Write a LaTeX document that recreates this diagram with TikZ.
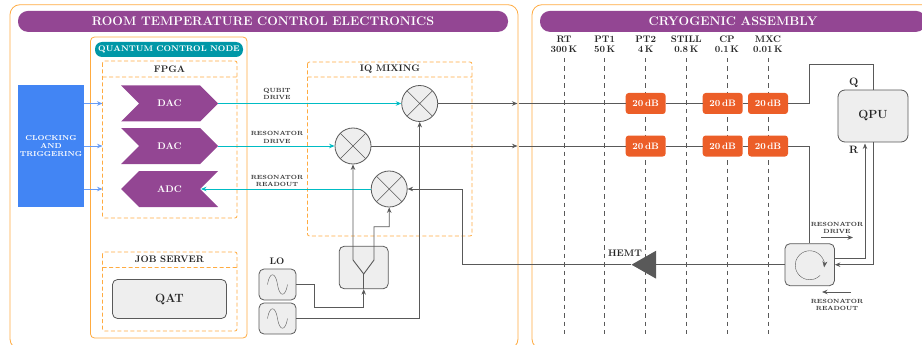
\documentclass[tikz,border=0pt]{standalone}
\usetikzlibrary{shapes.symbols,shapes.geometric,arrows.meta}
\definecolor{panelorange}{HTML}{FFAB40}
\definecolor{titlepurple}{HTML}{934693}
\definecolor{nodeteal}{HTML}{0097A7}
\definecolor{clockblue}{HTML}{4285F4}
\definecolor{attenorange}{HTML}{EC5E28}
\definecolor{drivecyan}{HTML}{00BCC4}
\definecolor{boxgrey}{HTML}{EEEEEE}
\definecolor{linegrey}{HTML}{595959}
\tikzset{
  panel/.style={draw=panelorange, thick, rounded corners=10pt},
  subpanel/.style={draw=panelorange, thick, rounded corners=4pt},
  dashpanel/.style={draw=panelorange, thick, dash pattern=on 4pt off 2.5pt, rounded corners=2pt},
  stageline/.style={draw=linegrey, line width=0.8pt, dash pattern=on 4.5pt off 4pt},
  titlebar/.style={fill=titlepurple, text=white, rounded corners=10pt, minimum height=21pt, inner sep=0pt, font=\fontsize{12.5}{12}\selectfont\bfseries},
  chevron/.style={signal, fill=titlepurple, text=white, minimum width=97pt, minimum height=36pt, inner sep=0pt, signal pointer angle=90, font=\fontsize{9.6}{10}\selectfont\bfseries},
  mixer/.style={circle, draw=linegrey, thick, fill=boxgrey, minimum size=36pt, inner sep=0pt,
    path picture={\draw [linegrey, semithick] (path picture bounding box.south west) ++(5.3pt,5.3pt) -- ++(25.4pt,25.4pt)
      (path picture bounding box.north west) ++(5.3pt,-5.3pt) -- ++(25.4pt,-25.4pt);}},
  greybox/.style={draw=linegrey, thick, fill=boxgrey, rounded corners=5pt, inner sep=0pt, text=black!85},
  atten/.style={fill=attenorange, text=white, rounded corners=3pt, minimum width=40pt, minimum height=21pt, inner sep=0pt, font=\fontsize{9.3}{9}\selectfont\bfseries},
  stage/.style={align=center, font=\fontsize{9.5}{10}\selectfont\bfseries, text=black!85},
  tinylabel/.style={align=center, font=\fontsize{6}{7.4}\selectfont\bfseries, text=black!80},
  boxlabel/.style={font=\fontsize{9.5}{10}\selectfont\bfseries, text=black!85},
  biglabel/.style={font=\fontsize{11.8}{12}\selectfont\bfseries},
  wire/.style={draw=linegrey, line width=0.9pt},
  drive/.style={draw=drivecyan, line width=0.9pt},
  clockline/.style={draw=clockblue!80, line width=0.9pt}
}
\begin{document}
\begin{tikzpicture}[x=1pt, y=-1pt, >={Stealth[length=5.5pt,width=4.5pt]}]
  \useasboundingbox (0,0) rectangle (922,345);
  \clip (0,0) rectangle (922,345);

  % panels
  \draw [panel] (10,4.7) rectangle (518,349);
  \draw [panel] (532,4.7) rectangle (940,349);
  \node [titlebar, minimum width=490pt] (roomtitle) at (263,21.4) {ROOM TEMPERATURE CONTROL ELECTRONICS};
  \node [titlebar, minimum width=386pt] (cryotitle) at (733,21.4) {CRYOGENIC ASSEMBLY};

  \draw [subpanel] (90.5,37) rectangle (247,338);
  \node [fill=nodeteal, text=white, rounded corners=7pt, minimum width=148pt, minimum height=15pt, inner sep=0pt, font=\fontsize{8.2}{8}\selectfont\bfseries] (qcn) at (169,49.5) {QUANTUM CONTROL NODE};

  % fpga
  \draw [dashpanel] (102.5,61) rectangle (237,218) (102.5,77) -- (237,77);
  \node [boxlabel] (fpga) at (169.5,69.5) {FPGA};
  \node [chevron, signal from=west, signal to=east] (dacq) at (169.5,103.5) {DAC};
  \node [chevron, signal from=west, signal to=east] (dacr) at (169.5,146) {DAC};
  \node [chevron, signal from=east, signal to=west] (adc) at (169.5,189) {ADC};

  % clock
  \node [fill=clockblue, text=white, minimum width=66pt, minimum height=122pt, inner sep=0pt, align=center, font=\fontsize{7.2}{8}\selectfont\bfseries] (clock) at (51,146) {CLOCKING\\AND\\TRIGGERING};
  \coordinate (clka) at (102.5,103.5);
  \coordinate (clkb) at (102.5,146);
  \coordinate (clkc) at (102.5,189);
  \draw [clockline, ->] (clock.east |- clka) -- (clka);
  \draw [clockline, ->] (clock.east |- clkb) -- (clkb);
  \draw [clockline, ->] (clock.east |- clkc) -- (clkc);

  % job server
  \draw [dashpanel] (102.5,252) rectangle (237,331) (102.5,267.5) -- (237,267.5);
  \node [boxlabel] (jobs) at (169.5,259.5) {JOB SERVER};
  \node [greybox, minimum width=114pt, minimum height=39pt, font=\fontsize{12}{12}\selectfont\bfseries] (qat) at (169.5,299) {QAT};

  % iq mixing
  \draw [dashpanel] (307.5,62) rectangle (472,236) (307.5,77) -- (472,77);
  \node [boxlabel] (iq) at (390,69.5) {IQ MIXING};
  \node [mixer] (mixq) at (419.7,103.5) {};
  \node [mixer] (mixr) at (353,146) {};
  \node [mixer] (mixa) at (389.2,189) {};

  \node [tinylabel] (qlab) at (277,94) {QUBIT\\DRIVE};
  \node [tinylabel] (rlab) at (277,137.5) {RESONATOR\\DRIVE};
  \node [tinylabel] (alab) at (277,181) {RESONATOR\\READOUT};
  \coordinate (adcin) at (201,189);
  \draw [drive, ->] (dacq.east) -- (mixq.west);
  \draw [drive, ->] (dacr.east) -- (mixr.west);
  \draw [drive, ->] (mixa.west) -- (adcin);

  % local oscillators
  \node [boxlabel] (lolab) at (277,261.5) {LO};
  \node [greybox, minimum width=37pt, minimum height=31pt] (loa) at (277.5,284.5) {};
  \node [greybox, minimum width=37pt, minimum height=31pt] (lob) at (277.5,318.5) {};
  \foreach \lo in {loa, lob} {
    \draw [linegrey, thin, shift={(\lo.center)}] (-10,0) .. controls (-8,-13) and (-2,-13) .. (0,0) .. controls (2,13) and (8,13) .. (10,0);
  }

  % splitter
  \node [greybox, minimum width=49pt, minimum height=42.5pt] (split) at (363.7,267.5) {};
  \coordinate (arma) at (353,260);
  \coordinate (armb) at (374,260);
  \coordinate (armc) at (363.7,274);
  \coordinate (armd) at (374,226.7);
  \coordinate (arme) at (389.2,226.7);
  \coordinate (lobend) at (419.7,318.5);
  \coordinate (loaa) at (314.5,284.5);
  \coordinate (loab) at (314.5,307.5);
  \coordinate (loac) at (363.7,307.5);
  \draw [wire, ->] (armc) -- (arma) -- (mixr.south);
  \draw [wire, ->] (armc) -- (armb) -- (armd) -- (arme) -- (mixa.south);
  \draw [wire] (armc) -- (split.south);
  \draw [wire, ->] (loa.east) -- (loaa) -- (loab) -- (loac) -- (split.south);
  \draw [wire, ->] (lob.east) -- (lobend) -- (mixq.south);

  % stages
  \foreach \x/\name/\temp in {564/RT/300, 604.7/PT1/50, 645.7/PT2/4, 686.3/STILL/0.8, 727/CP/0.1, 768/MXC/0.01} {
    \node [stage] (st\name) at (\x,44.5) {\name\\\temp\,K};
    \draw [stageline] (\x,58) -- (\x,333) (\x,333) -- (\x,333.1);
  }

  % attenuators
  \coordinate (crossq) at (519,103.5);
  \coordinate (crossr) at (519,146);
  \coordinate (endq) at (517.5,103.5);
  \coordinate (endr) at (517.5,146);
  \draw [wire, ->] (mixq.east) -- (endq);
  \draw [wire, ->] (mixr.east) -- (endr);
  \foreach \x/\name in {645.7/a, 722.7/b, 768/c} {
    \node [atten] (att\name q) at (\x,103.5) {20\,dB};
    \node [atten] (att\name r) at (\x,146) {20\,dB};
  }
  \draw [wire] (crossq) -- (attaq) (attaq) -- (attbq) (attbq) -- (attcq);
  \draw [wire] (crossr) -- (attar) (attar) -- (attbr) (attbr) -- (attcr);

  % qpu
  \node [greybox, minimum width=70pt, minimum height=52pt, rounded corners=7pt, biglabel] (qpu) at (873,116) {QPU};
  \node [boxlabel, font=\fontsize{10.7}{11}\selectfont\bfseries] (qmark) at (853.7,83) {Q};
  \node [boxlabel, font=\fontsize{10.7}{11}\selectfont\bfseries] (rmark) at (853.7,150) {R};

  % circulator
  \node [greybox, minimum width=49.5pt, minimum height=42pt] (circ) at (809.7,264.7) {};
  \draw [linegrey, thin, -{Stealth[length=6pt,width=5pt]}] (820,275.5) arc (45:368:14.5);
  \coordinate (qa) at (809.7,103.5);
  \coordinate (qb) at (809.7,64.5);
  \coordinate (qc) at (873,64.5);
  \coordinate (ra) at (809.7,146);
  \coordinate (rba) at (865,258);
  \coordinate (rbb) at (865,143.5);
  \coordinate (rca) at (873,264.7);
  \coordinate (rcb) at (835,258);
  \draw [wire] (attcq) -- (qa) -- (qb) -- (qc) -- (qpu.north);
  \draw [wire] (attcr) -- (ra) -- (circ.north);
  \draw [wire, ->] (rcb) -- (rba) -- (rbb);
  \draw [wire, ->] (qpu.south) -- (rca) -- (circ.east);

  \node [tinylabel] (cdrive) at (837,228) {RESONATOR\\DRIVE};
  \node [tinylabel] (cread) at (837,305) {RESONATOR\\READOUT};
  \coordinate (cda) at (821,237.5);
  \coordinate (cdb) at (853,237.5);
  \coordinate (cra) at (851,292);
  \coordinate (crb) at (822,292);
  \draw [wire, ->] (cda) -- (cdb);
  \draw [wire, ->] (cra) -- (crb);

  % hemt
  \node [isosceles triangle, isosceles triangle stretches, shape border rotate=180, fill=linegrey, inner sep=0pt, minimum height=24.6pt, minimum width=28pt, anchor=apex] (hemt) at (631,264.7) {};
  \node [boxlabel] (hemtlab) at (625,253) {HEMT};
  \coordinate (reada) at (462,264.7);
  \coordinate (readb) at (462,189);
  \draw [wire] (circ.west) -- (hemt.east);
  \draw [wire, ->] (hemt.apex) -- (reada) -- (readb) -- (mixa.east);
\end{tikzpicture}
\end{document}
